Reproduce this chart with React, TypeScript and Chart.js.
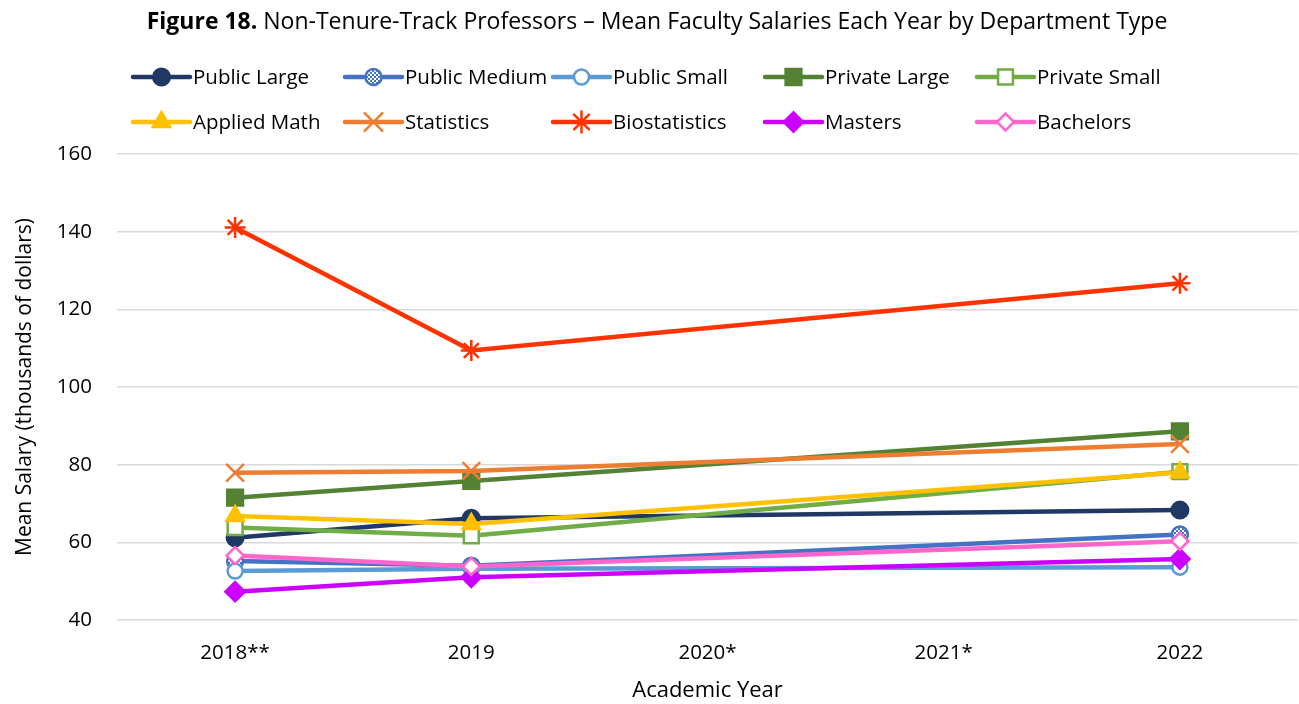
import React, { useEffect, useRef } from "react";
import { Chart, registerables } from "chart.js";
import { drawPoint } from "chart.js/helpers";

Chart.register(...registerables);

const FONT = "'Open Sans', 'Noto Sans', sans-serif";

const categories = ["2018**", "2019", "2020*", "2021*", "2022"];

const seriesNames = [
  "Public Large",
  "Public Medium",
  "Public Small",
  "Private Large",
  "Private Small",
  "Applied Math",
  "Statistics",
  "Biostatistics",
  "Masters",
  "Bachelors",
];

const publicLarge = [61.2, 66.2, null, null, 68.3];
const publicMedium = [55.2, 54.0, null, null, 62.0];
const publicSmall = [52.6, 53.2, null, null, 53.6];
const privateLarge = [71.5, 75.8, null, null, 88.6];
const privateSmall = [63.8, 61.7, null, null, 78.2];
const appliedMath = [66.8, 64.7, null, null, 78.0];
const statistics = [77.9, 78.4, null, null, 85.3];
const biostatistics = [141.1, 109.4, null, null, 126.7];
const masters = [47.3, 51.0, null, null, 55.7];
const bachelors = [56.6, 53.8, null, null, 60.3];

const seriesValues = [
  publicLarge,
  publicMedium,
  publicSmall,
  privateLarge,
  privateSmall,
  appliedMath,
  statistics,
  biostatistics,
  masters,
  bachelors,
];

const yTicks = { min: 40, max: 160, step: 20 };

function makePattern(color: string): CanvasPattern | string {
  const c = document.createElement("canvas");
  c.width = 4;
  c.height = 4;
  const g = c.getContext("2d");
  if (!g) return color;
  g.fillStyle = color;
  g.fillRect(0, 0, 4, 4);
  g.fillStyle = "#ffffff";
  g.fillRect(0, 0, 2, 2);
  g.fillRect(2, 2, 2, 2);
  const p = g.createPattern(c, "repeat");
  return p || color;
}

export default function App() {
  const ref = useRef<HTMLCanvasElement | null>(null);

  useEffect(() => {
    document.body.style.margin = "0";
    document.documentElement.style.overflow = "hidden";
    document.body.style.overflow = "hidden";
    const canvas = ref.current;
    if (!canvas) return;

    const pattern = makePattern("#4472c4");

    const styles = [
      { color: "#203864", style: "circle", fill: "#203864", r: 8.5, bw: 2 },
      { color: "#4472c4", style: "circle", fill: pattern, r: 8, bw: 2.5 },
      { color: "#5b9bd5", style: "circle", fill: "#ffffff", r: 7.5, bw: 2.5 },
      { color: "#548235", style: "rect", fill: "#548235", r: 11.5, bw: 2 },
      { color: "#70ad47", style: "rect", fill: "#ffffff", r: 10.5, bw: 2.5 },
      { color: "#ffc000", style: "triangle", fill: "#ffc000", r: 10.5, bw: 2 },
      { color: "#ed7d31", style: "crossRot", fill: "#ed7d31", r: 12.5, bw: 2.5 },
      { color: "#ff3300", style: "star", fill: "#ff3300", r: 10.5, bw: 2.5 },
      { color: "#cc00ff", style: "rectRot", fill: "#cc00ff", r: 10, bw: 2 },
      { color: "#ff66cc", style: "rectRot", fill: "#ffffff", r: 8.5, bw: 2.5 },
    ];

    const datasets = seriesNames.map((name, i) => ({
      label: name,
      data: seriesValues[i],
      borderColor: styles[i].color,
      backgroundColor: styles[i].fill,
      borderWidth: 4.5,
      pointStyle: styles[i].style,
      pointRadius: styles[i].r,
      pointHoverRadius: styles[i].r,
      pointBorderWidth: styles[i].bw,
      pointBorderColor: styles[i].color,
      pointBackgroundColor: styles[i].fill,
      tension: 0,
      spanGaps: true,
      order: 20 - i,
      borderCapStyle: "round" as const,
    }));

    const decor = {
      id: "decor",
      afterDraw(chart: any) {
        const ctx = chart.ctx as CanvasRenderingContext2D;
        ctx.save();
        // Title
        const bold = "Figure 18.";
        const rest = " Non-Tenure-Track Professors \u2013 Mean Faculty Salaries Each Year by Department Type";
        ctx.textBaseline = "middle";
        ctx.fillStyle = "#000000";
        ctx.font = `bold 23px ${FONT}`;
        const wb = ctx.measureText(bold).width;
        ctx.font = `23px ${FONT}`;
        const wr = ctx.measureText(rest).width;
        const cx = 657;
        const x0 = cx - (wb + wr) / 2;
        ctx.textAlign = "left";
        ctx.font = `bold 23px ${FONT}`;
        ctx.fillText(bold, x0, 22);
        ctx.font = `23px ${FONT}`;
        ctx.fillText(rest, x0 + wb, 22);

        // Legend
        const colX = [133, 345, 553, 765, 977];
        const rowY = [77, 122];
        const lineLen = 57;
        ctx.font = `20.5px ${FONT}`;
        chart.data.datasets.forEach((ds: any, i: number) => {
          const col = i % 5;
          const row = Math.floor(i / 5);
          const lx = colX[col];
          const ly = rowY[row];
          ctx.strokeStyle = ds.borderColor;
          ctx.lineWidth = 4.5;
          ctx.lineCap = "round";
          ctx.beginPath();
          ctx.moveTo(lx, ly);
          ctx.lineTo(lx + lineLen, ly);
          ctx.stroke();
          ctx.fillStyle = ds.pointBackgroundColor;
          ctx.strokeStyle = ds.pointBorderColor;
          ctx.lineWidth = ds.pointBorderWidth;
          drawPoint(
            ctx,
            {
              pointStyle: ds.pointStyle,
              radius: ds.pointRadius,
              rotation: 0,
              borderWidth: ds.pointBorderWidth,
            } as any,
            lx + lineLen / 2,
            ly
          );
          ctx.fillStyle = "#000000";
          ctx.textAlign = "left";
          ctx.fillText(ds.label, lx + lineLen + 3, ly + 1);
        });
        ctx.restore();
      },
    };

    const chart = new Chart(canvas, {
      type: "line",
      data: { labels: categories, datasets: datasets as any },
      options: {
        animation: false,
        responsive: false,
        devicePixelRatio: 1,
        layout: { autoPadding: false, padding: { top: 154, right: 1, left: 10, bottom: 0 } },
        plugins: {
          legend: { display: false },
          title: { display: false },
          tooltip: { enabled: false },
        },
        scales: {
          x: {
            offset: true,
            grid: { display: false, drawTicks: false },
            border: { display: false },
            ticks: {
              color: "#000000",
              font: { family: FONT, size: 20.5 },
              padding: 21,
            },
            title: {
              display: true,
              text: "Academic Year",
              color: "#000000",
              font: { family: FONT, size: 22 },
              padding: { top: 10, bottom: 0 },
            },
            afterFit(scale: any) {
              scale.height = 84;
            },
          },
          y: {
            min: yTicks.min,
            max: yTicks.max,
            grid: { color: "#d9d9d9", lineWidth: 1.5, drawTicks: false },
            border: { display: false },
            ticks: {
              stepSize: yTicks.step,
              color: "#000000",
              font: { family: FONT, size: 20.5 },
              padding: 25,
            },
            title: {
              display: true,
              text: "Mean Salary (thousands of dollars)",
              color: "#000000",
              font: { family: FONT, size: 21 },
              padding: { top: 2, bottom: 0 },
            },
            afterFit(scale: any) {
              scale.width = 107;
            },
          },
        },
      },
      plugins: [decor],
    });

    return () => chart.destroy();
  }, []);

  return (
    <div style={{ width: 1299, height: 704, position: "relative", overflow: "hidden" }}>
      <canvas ref={ref} width={1299} height={704} style={{ display: "block", width: 1299, height: 704 }} />
    </div>
  );
}
